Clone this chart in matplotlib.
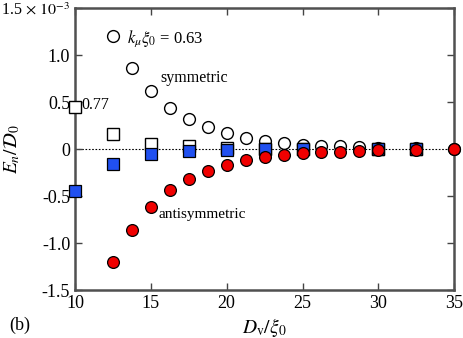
import matplotlib
matplotlib.use("Agg")
import matplotlib.pyplot as plt

plt.rcParams['font.family'] = ['Liberation Serif', 'DejaVu Serif']
plt.rcParams['mathtext.fontset'] = 'stix'

# symmetric / antisymmetric, k_mu xi_0 = 0.63 (units of 1e-3)
d_circ = [12.5, 13.75, 15, 16.25, 17.5, 18.75, 20, 21.25, 22.5, 23.75, 25, 26.25, 27.5, 28.75, 30, 32.5, 35]
sym_circ = [1.20, 0.86, 0.62, 0.44, 0.32, 0.23, 0.17, 0.12, 0.09, 0.065, 0.045, 0.035, 0.03, 0.022, 0.016, 0.01, 0.005]
anti_circ = [-1.20, -0.86, -0.62, -0.44, -0.32, -0.23, -0.17, -0.12, -0.085, -0.067, -0.046, -0.035, -0.03, -0.02, -0.015, -0.005, 0.0]

# k_mu xi_0 = 0.77
d_sq = [10, 12.5, 15, 17.5, 20, 22.5, 25, 30, 32.5]
sym_sq = [0.45, 0.156, 0.053, 0.03, 0.01, 0.005, 0.003, 0.001, 0.0]
anti_sq = [-0.45, -0.16, -0.056, -0.02, -0.007, -0.004, -0.002, -0.001, 0.0]

yticks = [-1.5, -1.0, -0.5, 0, 0.5, 1.0, 1.5]
ylabels = ['-1.5', '-1.0', '-0.5', '0', '0.5', '1.0', r'1.5$\,\times\,10^{-3}$']

fig = plt.figure(figsize=(4.63, 3.38), dpi=100)
ax = fig.add_axes([0.162, 0.142, 0.819, 0.834])

ax.axhline(0, color='black', ls=(0, (1.5, 1.5)), lw=0.8, zorder=1)

ax.plot(d_circ, sym_circ, 'o', ms=8.5, mfc='white', mec='black', mew=1.0, clip_on=False, zorder=3)
ax.plot(d_sq, sym_sq, 's', ms=8, mfc='white', mec='black', mew=1.0, clip_on=False, zorder=4)
ax.plot(d_sq, anti_sq, 's', ms=8, mfc='#2050f0', mec='black', mew=0.9, clip_on=False, zorder=5)
ax.plot(d_circ, anti_circ, 'o', ms=8.5, mfc='#f00000', mec='black', mew=0.9, clip_on=False, zorder=6)

ax.set_xlim(10, 35)
ax.set_ylim(-1.5, 1.5)
ax.set_xticks([10, 15, 20, 25, 30, 35])
ax.set_yticks(yticks)
ax.set_yticklabels(ylabels)
ax.tick_params(direction='in', top=True, right=True, length=5, width=1, labelsize=13, color='#444444')
ax.get_yticklabels()[-1].set_fontsize(11.5)
for s in ax.spines.values():
    s.set_color('#505050')
    s.set_linewidth(1.8)

ax.text(13.4, 1.13, r'$k_\mu\xi_0$ = 0.63', fontsize=12)
ax.text(15.6, 0.71, 'symmetric', fontsize=11.5)
ax.text(10.45, 0.43, '0.77', fontsize=11.5)
ax.text(15.5, -0.73, 'antisymmetric', fontsize=11)

ax.set_xlabel(r'$D_\mathrm{v}/\xi_0$', fontsize=14, labelpad=3)
ax.set_ylabel(r'$E_n/\mathcal{D}_0$', fontsize=14)
ax.yaxis.set_label_coords(-0.14, 0.5)
fig.text(0.02, 0.025, '(b)', fontsize=13)

fig.savefig('out.png', dpi=100)
